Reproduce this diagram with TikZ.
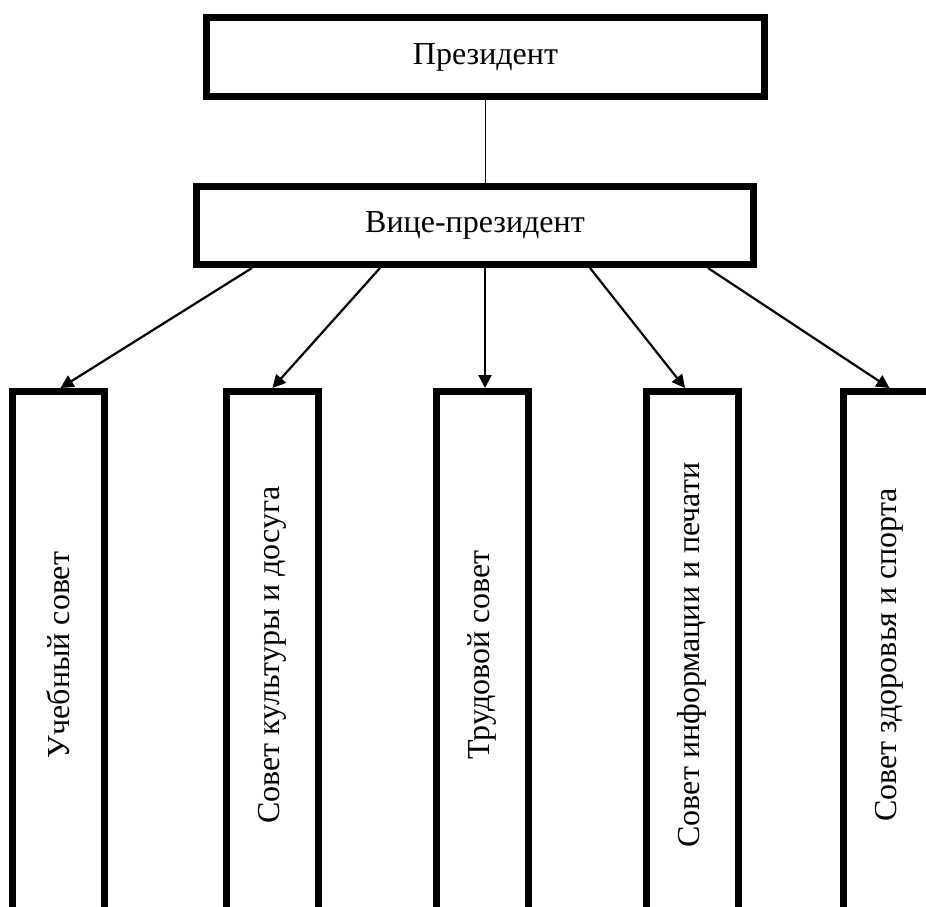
\documentclass[tikz,border=0pt]{standalone}
\usepackage{fontspec}
\usepackage{graphicx}
\setmainfont{Liberation Serif}
\usetikzlibrary{arrows.meta}
\begin{document}
\begin{tikzpicture}[x=1pt,y=-1pt,
  hbox/.style={draw=black, line width=7pt, fill=white, inner sep=0pt,
    font=\fontsize{32}{38}\selectfont},
  vbox/.style={draw=black, line width=7pt, fill=white, inner sep=0pt,
    minimum width=92pt, minimum height=527pt,
    font=\fontsize{32}{38}\selectfont},
  conn/.style={draw=black, line width=2.2pt,
    -{Triangle[length=13pt,width=13pt]}}]
\clip (0,0) rectangle (926,906);
\fill[white] (0,0) rectangle (926,906);
\node[hbox, minimum width=558pt, minimum height=79pt] (pres) at (485.5,57) {Президент};
\node[hbox, minimum width=557pt, minimum height=78pt] (vp) at (475,225.5) {Вице-президент};
\node[vbox] (b1) at (58.5,655) {\rotatebox{90}{Учебный совет}};
\node[vbox] (b2) at (272.5,655) {\rotatebox{90}{Совет культуры и досуга}};
\node[vbox] (b3) at (482,655) {\rotatebox{90}{Трудовой совет}};
\node[vbox] (b4) at (692,655) {\rotatebox{90}{Совет информации и печати}};
\node[vbox] (b5) at (889.5,655) {\rotatebox{90}{Совет здоровья и спорта}};
\draw[line width=1.8pt] (pres.south) -- (pres.south |- vp.north);
\draw[conn] ([xshift=-223pt]vp.south) -- ([xshift=2pt]b1.north);
\draw[conn] ([xshift=-95pt]vp.south) -- (b2.north);
\draw[conn] ([xshift=10pt]vp.south) -- ([xshift=3pt]b3.north);
\draw[conn] ([xshift=115pt]vp.south) -- ([xshift=-7pt]b4.north);
\draw[conn] ([xshift=233pt]vp.south) -- (b5.north);
\end{tikzpicture}
\end{document}
